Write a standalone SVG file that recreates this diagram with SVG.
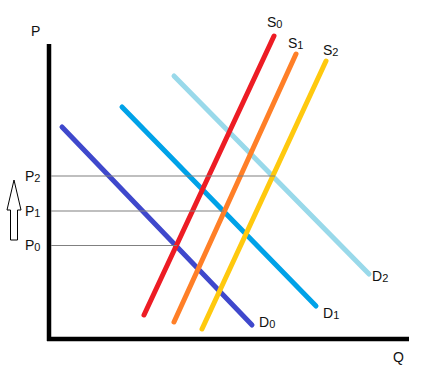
<svg xmlns="http://www.w3.org/2000/svg" width="438" height="388" viewBox="0 0 438 388">
<style>
.t{font-family:"Liberation Sans",Arial,sans-serif;font-size:14px;fill:#111}
.s{font-size:11px}
.c{stroke-width:5;stroke-linecap:round;fill:none}
.g{stroke:#808080;stroke-width:1.2;fill:none}
.ax{stroke:#000;stroke-width:4.5;fill:none}
</style>
<rect width="438" height="388" fill="#fff"/>
<g id="axes">
<line class="ax" x1="49" y1="44" x2="49" y2="341"/>
<line class="ax" x1="47" y1="339" x2="409" y2="339"/>
<text class="t" x="31" y="36">P</text>
<text class="t" x="393" y="362">Q</text>
</g>
<g id="connectors">
<line class="c" stroke="#3f48cc" x1="62" y1="127" x2="252" y2="325"/>
<line class="c" stroke="#00a2e8" x1="122" y1="107" x2="316" y2="306"/>
<line class="c" stroke="#99d9ea" x1="174" y1="76" x2="369" y2="274"/>
<line class="c" stroke="#ed1c24" x1="144" y1="315" x2="274" y2="36"/>
<line class="c" stroke="#ff7f27" x1="174" y1="322" x2="296" y2="54"/>
<line class="c" stroke="#ffc90e" x1="202" y1="329" x2="326" y2="61"/>
<line class="g" x1="51" y1="176" x2="275" y2="176"/>
<line class="g" x1="51" y1="211" x2="224" y2="211"/>
<line class="g" x1="51" y1="245.5" x2="177" y2="245.5"/>
</g>
<g id="arrow">
<path d="M14 180 L21 210 L17.5 210 L17.5 240 L10.5 240 L10.5 210 L7 210 Z" fill="#fff" stroke="#000" stroke-width="1"/>
</g>
<g id="labels">
<text class="t" x="25" y="181">P<tspan class="s" dy="1">2</tspan></text>
<text class="t" x="25" y="216">P<tspan class="s" dy="1">1</tspan></text>
<text class="t" x="25" y="250">P<tspan class="s" dy="1">0</tspan></text>
<text class="t" x="267" y="27">S<tspan class="s" dy="1">0</tspan></text>
<text class="t" x="288" y="48">S<tspan class="s" dy="1">1</tspan></text>
<text class="t" x="323" y="55">S<tspan class="s" dy="1">2</tspan></text>
<text class="t" x="372" y="281">D<tspan class="s" dy="1">2</tspan></text>
<text class="t" x="323" y="318">D<tspan class="s" dy="1">1</tspan></text>
<text class="t" x="259" y="327">D<tspan class="s" dy="1">0</tspan></text>
</g>
</svg>
